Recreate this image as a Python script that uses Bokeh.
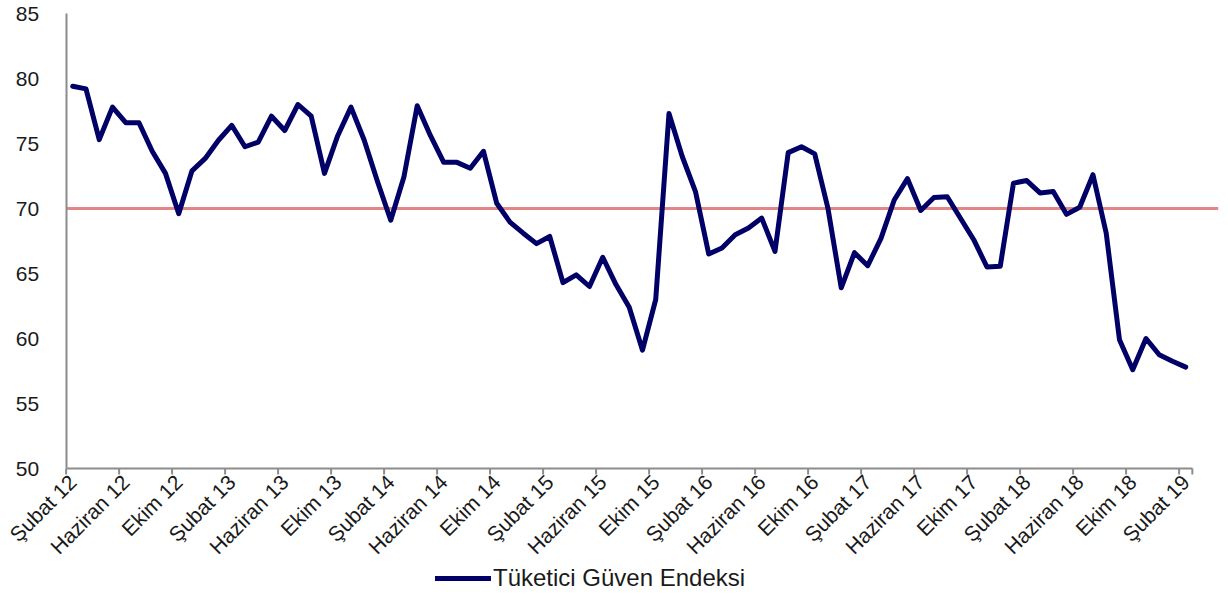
import math
from bokeh.plotting import figure
from bokeh.models import (LinearAxis, FixedTicker, Legend, LegendItem, Range1d)
from bokeh.embed import file_html
from bokeh.resources import INLINE

# ---- data -------------------------------------------------------------
month_names = ["Ocak", "Şubat", "Mart", "Nisan", "Mayıs", "Haziran",
               "Temmuz", "Ağustos", "Eylül", "Ekim", "Kasım", "Aralık"]
# categories: Şubat 12 ... Şubat 19 (monthly)
categories = []
for k in range(85):
    m = (1 + k) % 12
    yy = 12 + (1 + k) // 12
    categories.append(f"{month_names[m]} {yy}")

index_values = [
    79.4, 79.2, 75.3, 77.8, 76.6, 76.6, 74.4, 72.7, 69.6, 72.9,
    73.85, 75.25, 76.4, 74.75, 75.1, 77.1, 76.0, 78.0, 77.1, 72.7,
    75.6, 77.8, 75.25, 72.07, 69.1, 72.45, 77.9, 75.6, 73.55, 73.55,
    73.1, 74.4, 70.4, 68.95, 68.1, 67.3, 67.85, 64.3, 64.9, 64.0,
    66.25, 64.15, 62.4, 59.1, 63.0, 77.3, 74.0, 71.3, 66.5, 66.96,
    67.98, 68.5, 69.26, 66.7, 74.3, 74.75, 74.2, 70.0, 63.9, 66.6,
    65.6, 67.7, 70.65, 72.3, 69.85, 70.85, 70.9, 69.25, 67.6, 65.5,
    65.55, 71.95, 72.15, 71.2, 71.3, 69.55, 70.1, 72.6, 68.1, 59.9,
    57.6, 60.0, 58.75, 58.25, 57.8,
]
threshold = 70
tick_labels = ["Şubat 12", "Haziran 12", "Ekim 12", "Şubat 13", "Haziran 13",
               "Ekim 13", "Şubat 14", "Haziran 14", "Ekim 14", "Şubat 15",
               "Haziran 15", "Ekim 15", "Şubat 16", "Haziran 16", "Ekim 16",
               "Şubat 17", "Haziran 17", "Ekim 17", "Şubat 18", "Haziran 18",
               "Ekim 18", "Şubat 19"]
y_ticks = [50, 55, 60, 65, 70, 75, 80, 85]
y_min, y_max = 50, 85
series_name = "Tüketici Güven Endeksi"

# ---- layout constants (pixels) ---------------------------------------
FONT = "Liberation Sans"
n = len(index_values)
xs = list(range(n))

PX_X = 13.25          # pixels per month
PX_Y = 13.0           # pixels per index point
LEFT_ROOM = 65.6      # room left of the value axis (tick labels)
TOP_ROOM = 13         # room above y_max
BOTTOM_ROOM = 128     # room under y_min (category labels + legend)
FRAME_W = 1218
FRAME_H = int(round((y_max - y_min) * PX_Y)) + TOP_ROOM + BOTTOM_ROOM

x0 = -0.5 - LEFT_ROOM / PX_X
p = figure(frame_width=FRAME_W, frame_height=FRAME_H, output_backend="svg",
           toolbar_location=None,
           x_range=Range1d(x0, x0 + FRAME_W / PX_X),
           y_range=Range1d(y_min - BOTTOM_ROOM / PX_Y, y_max + TOP_ROOM / PX_Y),
           x_axis_type=None, y_axis_type=None,
           min_border_left=0, min_border_right=2, min_border_top=0,
           min_border_bottom=0)
p.outline_line_color = None
p.xgrid.visible = False
p.ygrid.visible = False
p.background_fill_color = "white"
p.border_fill_color = "white"

AXIS_COLOR = "#8C8C8C"

# y axis (value axis), drawn at the left edge of the first category
yax = LinearAxis(ticker=FixedTicker(ticks=y_ticks), fixed_location=-0.5)
yax.bounds = (y_min, y_max)
yax.axis_line_color = AXIS_COLOR
yax.axis_line_width = 2
yax.major_tick_line_color = None
yax.minor_tick_line_color = None
yax.major_label_standoff = 21
yax.major_label_text_font = FONT
yax.major_label_text_font_size = "21px"
yax.major_label_text_color = "#1a1a1a"
p.add_layout(yax, "left")

# x axis: line + labels at category centres
label_pos = list(range(0, n, 4))
xax = LinearAxis(ticker=FixedTicker(ticks=label_pos), fixed_location=y_min)
xax.bounds = (-0.5, n - 0.5)
xax.major_label_overrides = {pos: lab for pos, lab in zip(label_pos, tick_labels)}
xax.axis_line_color = AXIS_COLOR
xax.axis_line_width = 2
xax.major_tick_line_color = None
xax.minor_tick_line_color = None
xax.major_tick_out = 0
xax.major_label_orientation = math.pi / 4
xax.major_label_standoff = 10
xax.major_label_text_font = FONT
xax.major_label_text_font_size = "21px"
xax.major_label_text_color = "#1a1a1a"
p.add_layout(xax, "below")

# tick marks between categories (every 4th boundary + last one)
boundary_ticks = [i - 0.5 for i in range(0, n, 4)] + [n - 0.5]
tick_len = 6 / PX_Y
p.segment(x0=boundary_ticks, y0=[y_min] * len(boundary_ticks),
          x1=boundary_ticks, y1=[y_min - tick_len] * len(boundary_ticks),
          line_color=AXIS_COLOR, line_width=2)

# threshold line (runs to the right edge of the chart area)
p.segment(x0=[-0.5], y0=[threshold], x1=[x0 + FRAME_W / PX_X], y1=[threshold],
          line_color="#E38080", line_width=3, line_alpha=0.95)

r = p.line(xs, index_values, line_color="#000066", line_width=5,
           line_join="round", line_cap="round")

legend = Legend(items=[LegendItem(label=series_name, renderers=[r])],
                location=(435, 4), orientation="horizontal")
legend.label_text_font = FONT
legend.label_text_font_size = "24px"
legend.label_text_color = "#1a1a1a"
legend.glyph_width = 56
legend.glyph_height = 22
legend.label_standoff = 2
legend.padding = 0
legend.margin = 0
legend.border_line_color = None
legend.background_fill_alpha = 0
p.add_layout(legend, "center")

open("out.html", "w").write(file_html(p, INLINE))
